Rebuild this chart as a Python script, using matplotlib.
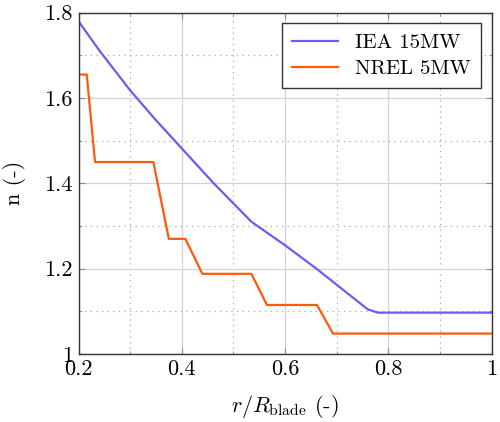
import matplotlib
matplotlib.use("Agg")
import matplotlib.pyplot as plt
from matplotlib.ticker import MultipleLocator, FormatStrFormatter

# IEA 15MW curve
iea_r = [0.2, 0.24, 0.30, 0.35, 0.40, 0.462, 0.535, 0.60, 0.661, 0.76, 0.78, 1.0]
iea_n = [1.78, 1.712, 1.618, 1.548, 1.482, 1.40, 1.31, 1.255, 1.20, 1.105, 1.097, 1.097]

# NREL 5MW step curve
nrel_r = [0.2, 0.216, 0.232, 0.345, 0.375, 0.407, 0.440, 0.535, 0.565, 0.662, 0.693, 1.0]
nrel_n = [1.655, 1.655, 1.45, 1.45, 1.27, 1.27, 1.188, 1.188, 1.115, 1.115, 1.048, 1.048]

plt.rcParams['font.family'] = 'serif'
plt.rcParams['font.serif'] = ['cmr10', 'DejaVu Serif']
plt.rcParams['mathtext.fontset'] = 'cm'
plt.rcParams['axes.formatter.use_mathtext'] = True

fig = plt.figure(figsize=(5, 4.22), dpi=100)
ax = fig.add_axes([0.157, 0.161, 0.826, 0.809])

ax.plot(iea_r, iea_n, color='#6d5cf0', lw=1.6, label='IEA 15MW')
ax.plot(nrel_r, nrel_n, color='#ff5a0a', lw=1.6, label='NREL 5MW')

ax.set_xlim(0.2, 1.0)
ax.set_ylim(1.0, 1.8)
ax.xaxis.set_major_locator(MultipleLocator(0.2))
ax.xaxis.set_minor_locator(MultipleLocator(0.1))
ax.yaxis.set_major_locator(MultipleLocator(0.2))
ax.yaxis.set_minor_locator(MultipleLocator(0.1))
ax.xaxis.set_major_formatter(FormatStrFormatter('%g'))
ax.yaxis.set_major_formatter(FormatStrFormatter('%g'))

ax.grid(which='major', color='#d2d2d2', lw=0.9, ls='-')
ax.grid(which='minor', color='#a8a8a8', lw=0.9, ls=(0, (1, 3.5)))
ax.set_axisbelow(True)
ax.tick_params(which='both', direction='in', top=True, right=True,
               color='#888888', labelsize=16, pad=4)
ax.tick_params(which='major', length=4)
ax.tick_params(which='minor', length=2.5)
for s in ax.spines.values():
    s.set_color('#333333')
    s.set_linewidth(1.0)

ax.set_xlabel(r'$r/R_{\mathrm{blade}}$ (-)', fontsize=16, labelpad=10)
ax.set_ylabel('n (-)', fontsize=16, labelpad=13)

leg = ax.legend(loc='upper right', fontsize=15, fancybox=False, framealpha=1,
                edgecolor='#333333', handlelength=2.2, borderaxespad=0.5,
                labelspacing=0.35, borderpad=0.5)
leg.get_frame().set_linewidth(1.0)

fig.savefig('out.png', dpi=100)
